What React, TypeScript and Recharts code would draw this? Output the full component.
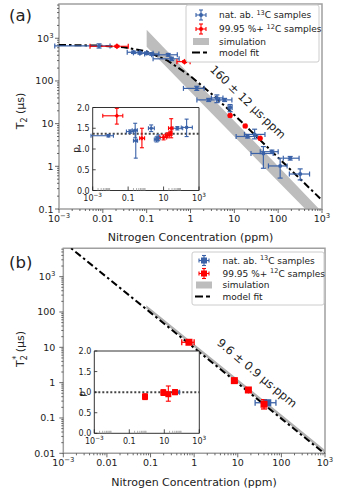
import React from "react";
import {
  ComposedChart,
  XAxis,
  YAxis,
  Scatter,
  ErrorBar,
  Line,
  Area,
  ReferenceArea,
  ReferenceLine,
  CartesianGrid,
} from "recharts";

const FONT = "'DejaVu Sans', sans-serif";
const BLUE = "#3a62a8";
const RED = "#ff0000";

// panel (a) T2 : [N, T2, N low, N high, T2 low, T2 high]
const t2Natural = [
  [0.0082, 660, 0.0008, 0.0146, 590, 740],
  [0.05, 470, 0.036, 0.07, 440, 500],
  [0.07, 455, 0.05, 0.1, 425, 490],
  [0.1, 445, 0.07, 0.14, 415, 475],
  [0.13, 430, 0.09, 0.19, 400, 460],
  [0.31, 410, 0.13, 0.5, 380, 440],
  [0.37, 330, 0.14, 0.55, 300, 360],
  [1.39, 67, 0.69, 2.05, 60, 75],
  [2.6, 36, 1.4, 4.6, 33, 39],
  [4.0, 40, 3.0, 5.5, 31, 47],
  [6.0, 36, 4.0, 8.8, 33, 39],
  [8.0, 24, 7.2, 8.9, 19, 28],
  [20, 5.0, 11, 34, 4.6, 5.5],
  [29, 5.6, 17, 50, 4.4, 7.4],
  [46, 2.0, 24, 77, 0.9, 2.9],
  [72, 2.2, 39, 100, 2.0, 2.4],
  [188, 1.55, 131, 300, 1.4, 1.7],
  [111, 1.02, 60, 160, 0.53, 1.55],
  [318, 0.66, 180, 520, 0.48, 0.87],
];
const t2Enriched = [
  [0.021, 650, 0.0051, 0.038, 620, 680],
  [0.73, 283, 0.49, 0.98, 270, 296],
  [8.0, 15.5, 7.5, 8.5, 14.5, 16.5],
  [17.7, 8.8, 16.5, 19, 8.3, 9.3],
  [38.8, 4.55, 36, 41, 4.3, 4.8],
];
const t2FitN = [0.001, 0.01, 0.03, 0.1, 0.3, 1, 3, 10, 100, 1000];
const t2FitT = [700, 670, 615, 490, 300, 130, 50, 16, 1.6, 0.16];
const t2SimN = [0.1, 1, 10, 100, 1000];
const t2SimLo = [630, 56, 5.0, 0.44, 0.04];
const t2SimHi = [1580, 135, 11.6, 1.0, 0.085];

// inset (a) p : [N, p, N low, N high, p low, p high]
const pNatural = [
  [0.0077, 1.32, 0.0008, 0.0148, 1.29, 1.35],
  [0.13, 1.42, 0.08, 0.2, 1.38, 1.46],
  [0.25, 1.45, 0.17, 0.33, 1.27, 1.62],
  [0.27, 1.2, 0.2, 0.34, 0.78, 1.45],
  [2.0, 1.5, 1.4, 3.0, 1.42, 1.58],
  [4.0, 1.23, 3.0, 5.2, 1.17, 1.29],
  [5.0, 1.27, 3.8, 6.5, 1.2, 1.34],
  [60, 1.5, 30, 120, 1.46, 1.54],
  [200, 1.52, 100, 420, 1.3, 1.72],
];
const pEnriched = [
  [0.023, 1.8, 0.0037, 0.05, 1.6, 1.98],
  [0.6, 1.26, 0.45, 0.85, 1.03, 1.5],
  [10, 1.28, 6, 15, 1.22, 1.34],
  [17, 1.33, 13, 22, 1.27, 1.39],
  [27, 1.5, 19, 34, 1.27, 1.73],
  [25, 1.38, 20, 30, 1.33, 1.43],
];
const pMeanA = 1.37;

// panel (b) T2*
const t2sNatural = [[48.8, 0.27, 25, 75, 0.25, 0.29]];
const t2sEnriched = [
  [0.76, 13.9, 0.52, 1.0, 13, 15],
  [8.35, 1.14, 8.0, 8.7, 1.07, 1.21],
  [17.5, 0.62, 16.8, 18.2, 0.58, 0.66],
  [40, 0.245, 38, 42, 0.18, 0.33],
];
const t2sFitN = [0.001, 0.01, 0.1, 1, 10, 100, 1000];
const t2sFitT = [9600, 960, 96, 9.6, 0.96, 0.096, 0.0096];
const t2sSimN = [0.08, 1, 10, 100, 1000];
const t2sSimLo = [125, 10, 1.0, 0.1, 0.01];
const t2sSimHi = [156, 12.5, 1.25, 0.125, 0.0125];

// inset (b)
const psNatural = [[48, 1.0, 30, 75, 0.97, 1.03]];
const psEnriched = [
  [0.79, 0.89, 0.7, 0.9, 0.82, 0.96],
  [8.8, 0.99, 7.5, 10.5, 0.92, 1.06],
  [17, 0.95, 15, 19, 0.78, 1.15],
  [41, 1.0, 35, 47, 0.94, 1.06],
];
const pMeanB = 1.0;

const xDecades = [0.001, 0.01, 0.1, 1, 10, 100, 1000];
const insetDecades = [0.001, 0.1, 10, 1000];
const pTicks = [0, 0.5, 1, 1.5, 2];

const rows = (pts: number[][]) =>
  pts.map(([n, v, nl, nh, vl, vh]) => ({ n, v, ex: [n - nl, nh - n], ey: [v - vl, vh - v] }));

const withMinor = (majors: number[], max: number) => {
  const out: number[] = [];
  majors.forEach((m) => {
    out.push(m);
    for (let k = 2; k < 10; k++) if (m * k < max) out.push(m * k);
  });
  return out;
};

const isMajor = (v: number) => Math.abs(Math.log10(v) - Math.round(Math.log10(v))) < 1e-6;

const DecLabel = ({ v }: { v: number }) => {
  const e = Math.round(Math.log10(v));
  if (Math.abs(e) === 3)
    return (
      <>
        10
        <tspan dy={-4} fontSize="0.72em">
          {e < 0 ? "−3" : "3"}
        </tspan>
      </>
    );
  return <>{e < 0 ? v.toFixed(-e) : String(Math.round(v))}</>;
};

const xTick = (p: any) => {
  const v = p.payload.value;
  const maj = isMajor(v);
  return (
    <g>
      <line x1={p.x} x2={p.x} y1={p.y} y2={p.y + (maj ? 4 : 2)} stroke="#444" strokeWidth={0.8} />
      {maj && (
        <text x={p.x} y={p.y + 12.5} textAnchor="middle" fontSize={9.5} fontFamily={FONT} fill="#222">
          <DecLabel v={v} />
        </text>
      )}
    </g>
  );
};

const yTick = (gap: number) => (p: any) => {
  const v = p.payload.value;
  const maj = isMajor(v);
  return (
    <g>
      <line x1={p.x} x2={p.x - (maj ? 4 : 2)} y1={p.y} y2={p.y} stroke="#444" strokeWidth={0.8} />
      {maj && (
        <text x={p.x - gap} y={p.y + 3.5} textAnchor="end" fontSize={9.5} fontFamily={FONT} fill="#222">
          <DecLabel v={v} />
        </text>
      )}
    </g>
  );
};

const insetXTick = (p: any) => {
  const v = p.payload.value;
  const maj = isMajor(v);
  return (
    <g>
      <line x1={p.x} x2={p.x} y1={p.y} y2={p.y - (maj ? 4 : 2.5)} stroke={maj ? "#222" : "#999"} strokeWidth={0.8} />
      {maj && (
        <text x={p.x} y={p.y + 10.5} textAnchor="middle" fontSize={8} fontFamily={FONT} fill="#222">
          <DecLabel v={v} />
        </text>
      )}
    </g>
  );
};

const insetYTick = (p: any) => (
  <g>
    <line x1={p.x} x2={p.x + 3} y1={p.y} y2={p.y} stroke="#222" strokeWidth={0.8} />
    <text x={p.x - 3} y={p.y + 3} textAnchor="end" fontSize={8} fontFamily={FONT} fill="#222">
      {p.payload.value.toFixed(1)}
    </text>
  </g>
);

const dot = (color: string, r: number) => (p: any) => <circle cx={p.cx} cy={p.cy} r={r} fill={color} />;
const diamond = (color: string, s: number) => (p: any) => (
  <path d={`M${p.cx},${p.cy - s}L${p.cx + s},${p.cy}L${p.cx},${p.cy + s}L${p.cx - s},${p.cy}Z`} fill={color} />
);
const square = (color: string, s: number) => (p: any) => (
  <rect x={p.cx - s} y={p.cy - s} width={2 * s} height={2 * s} fill={color} />
);

function Series({ data, color, shape, cap, sw }: any) {
  return (
    <Scatter data={rows(data)} dataKey="v" shape={shape} isAnimationActive={false}>
      <ErrorBar dataKey="ex" direction="x" stroke={color} strokeWidth={sw} width={cap} />
      <ErrorBar dataKey="ey" direction="y" stroke={color} strokeWidth={sw} width={cap} />
    </Scatter>
  );
}

// axis boxes take part of the margins: AX_H below, AX_W on the left
const AX_H = 20;
const AX_W = 30;

function MainPanel(props: any) {
  const { top, margin, yDomain, yMajors, natural, enriched, fitN, fitT, simN, simLo, simHi, simColor, big, gap } =
    props;
  const fit = fitN.map((n: number, i: number) => ({ n, t: fitT[i] }));
  const sim = simN.map((n: number, i: number) => ({ n, band: [simLo[i], simHi[i]] }));
  const m = { ...margin, left: margin.left - AX_W, bottom: margin.bottom - AX_H };
  return (
    <div style={{ position: "absolute", left: 0, top, width: 341, height: 247 }}>
      <ComposedChart width={341} height={247} margin={m}>
        <XAxis
          type="number"
          dataKey="n"
          scale="log"
          domain={[0.001, 1000]}
          allowDataOverflow
          ticks={withMinor(xDecades, 1000.1)}
          interval={0}
          tick={xTick}
          tickSize={0}
          tickMargin={0}
          axisLine={false}
          tickLine={false}
          height={AX_H}
        />
        <YAxis
          type="number"
          scale="log"
          domain={yDomain}
          allowDataOverflow
          ticks={withMinor(yMajors, yDomain[1])}
          interval={0}
          tick={yTick(gap)}
          tickSize={0}
          tickMargin={0}
          axisLine={false}
          tickLine={false}
          width={AX_W}
        />
        <Area
          data={sim}
          dataKey="band"
          type="linear"
          stroke="none"
          fill={simColor}
          fillOpacity={1}
          isAnimationActive={false}
        />
        <Line
          data={fit}
          dataKey="t"
          type="linear"
          stroke="#000"
          strokeWidth={2}
          strokeDasharray="7 3 2.5 3"
          dot={false}
          isAnimationActive={false}
        />
        {big ? (
          <>
            <Series data={natural} color={BLUE} shape={square(BLUE, 3.5)} cap={3} sw={1.3} />
            <Series data={enriched} color={RED} shape={square(RED, 3.5)} cap={3} sw={1.3} />
          </>
        ) : (
          <>
            <Series data={natural} color={BLUE} shape={dot(BLUE, 2)} cap={2.5} sw={1.2} />
            <Series data={enriched} color={RED} shape={diamond(RED, 3)} cap={2.5} sw={1.2} />
          </>
        )}
        <ReferenceArea
          x1={0.001}
          x2={1000}
          y1={yDomain[0]}
          y2={yDomain[1]}
          fill="none"
          stroke="#a0a0a0"
          strokeWidth={1.5}
          ifOverflow="visible"
        />
      </ComposedChart>
    </div>
  );
}

function Inset(props: any) {
  const { left, top, margin, natural, enriched, mean, big } = props;
  const m = { ...margin, left: margin.left - 20, bottom: margin.bottom - 12 };
  return (
    <div style={{ position: "absolute", left, top, width: 152, height: 110 }}>
      <ComposedChart width={152} height={110} margin={m}>
        <CartesianGrid fill="#fff" horizontal={false} vertical={false} />
        <XAxis
          type="number"
          dataKey="n"
          scale="log"
          domain={[0.001, 1000]}
          allowDataOverflow
          ticks={withMinor(insetDecades, 999)}
          interval={0}
          tick={insetXTick}
          tickSize={0}
          tickMargin={0}
          axisLine={false}
          tickLine={false}
          height={12}
        />
        <YAxis
          type="number"
          domain={[0, 2]}
          allowDataOverflow
          ticks={pTicks}
          interval={0}
          tick={insetYTick}
          tickSize={0}
          tickMargin={0}
          axisLine={false}
          tickLine={false}
          width={20}
        />
        <ReferenceLine y={mean} stroke="#444" strokeWidth={2} strokeDasharray="2 2" />
        {big ? (
          <>
            <Series data={natural} color={BLUE} shape={square(BLUE, 2)} cap={2.5} sw={1.1} />
            <Series data={enriched} color={RED} shape={square(RED, 3)} cap={2.5} sw={1.1} />
          </>
        ) : (
          <>
            <Series data={natural} color={BLUE} shape={dot(BLUE, 1.8)} cap={2} sw={1.1} />
            <Series data={enriched} color={RED} shape={diamond(RED, 2.3)} cap={2} sw={1.1} />
          </>
        )}
        <ReferenceArea x1={0.001} x2={1000} y1={0} y2={2} fill="none" stroke="#333" strokeWidth={1} ifOverflow="visible" />
      </ComposedChart>
    </div>
  );
}

function LegendMark({ kind, x, y, big }: any) {
  if (kind === "sim") return <rect x={x - 8} y={y - 3.5} width={16} height={7} fill="#bdbdbd" />;
  if (kind === "fit")
    return <line x1={x - 9} x2={x + 9} y1={y} y2={y} stroke="#000" strokeWidth={2} strokeDasharray="8 3 4 3" />;
  const c = kind === "blue" ? BLUE : RED;
  return (
    <g stroke={c} strokeWidth={1.1}>
      <line x1={x - 5} x2={x + 5} y1={y} y2={y} />
      <line x1={x - 5} x2={x - 5} y1={y - 2} y2={y + 2} />
      <line x1={x + 5} x2={x + 5} y1={y - 2} y2={y + 2} />
      <line x1={x} x2={x} y1={y - 5} y2={y + 5} />
      <line x1={x - 2} x2={x + 2} y1={y - 5} y2={y - 5} />
      <line x1={x - 2} x2={x + 2} y1={y + 5} y2={y + 5} />
      {big ? (
        <rect x={x - 3} y={y - 3} width={6} height={6} fill={c} stroke="none" />
      ) : (
        <circle cx={x} cy={y} r={2} fill={c} stroke="none" />
      )}
    </g>
  );
}

function LegendBox({ x, y, w, h, ys, mx, tx, big }: any) {
  const txt = { fontSize: 9, fontFamily: FONT, fill: "#222" };
  return (
    <g>
      <rect x={x} y={y} width={w} height={h} rx={2} fill="#fff" stroke="#ccc" strokeWidth={1} />
      <LegendMark kind="blue" x={mx} y={ys[0]} big={big} />
      <LegendMark kind="red" x={mx} y={ys[1]} big={big} />
      <LegendMark kind="sim" x={mx} y={ys[2]} />
      <LegendMark kind="fit" x={mx} y={ys[3]} />
      <text x={tx} y={ys[0] + 3.2} {...txt}>
        nat. ab. <tspan dy={-3.5} fontSize={6.5}>13</tspan>
        <tspan dy={3.5}>C samples</tspan>
      </text>
      <text x={tx} y={ys[1] + 3.2} {...txt}>
        99.95 %+ <tspan dy={-3.5} fontSize={6.5}>12</tspan>
        <tspan dy={3.5}>C samples</tspan>
      </text>
      <text x={tx} y={ys[2] + 3.2} {...txt}>
        simulation
      </text>
      <text x={tx} y={ys[3] + 3.2} {...txt}>
        model fit
      </text>
    </g>
  );
}

export default function App() {
  const t = { fontFamily: FONT, fill: "#222" };
  return (
    <div style={{ position: "absolute", left: 0, top: 0, width: 341, height: 494, background: "#fff" }}>
      <MainPanel
        top={0}
        margin={{ top: 4, right: 19, bottom: 38, left: 59 }}
        yDomain={[0.1, 6350]}
        yMajors={[0.1, 1, 10, 100, 1000]}
        natural={t2Natural}
        enriched={t2Enriched}
        fitN={t2FitN}
        fitT={t2FitT}
        simN={t2SimN}
        simLo={t2SimLo}
        simHi={t2SimHi}
        simColor="#bdbdbd"
        gap={5.5}
      />
      <MainPanel
        top={247}
        margin={{ top: 1.3, right: 16, bottom: 40.7, left: 63.3 }}
        yDomain={[0.01, 6350]}
        yMajors={[0.01, 0.1, 1, 10, 100, 1000]}
        natural={t2sNatural}
        enriched={t2sEnriched}
        fitN={t2sFitN}
        fitT={t2sFitT}
        simN={t2sSimN}
        simLo={t2sSimLo}
        simHi={t2sSimHi}
        simColor="#b0b0b0"
        big
        gap={8}
      />
      <Inset
        left={62}
        top={100}
        margin={{ top: 7.5, right: 15, bottom: 19.5, left: 30.7 }}
        natural={pNatural}
        enriched={pEnriched}
        mean={pMeanA}
      />
      <Inset
        left={62}
        top={343}
        margin={{ top: 8, right: 14.7, bottom: 19.7, left: 32.3 }}
        natural={psNatural}
        enriched={psEnriched}
        mean={pMeanB}
        big
      />
      <svg width={341} height={494} style={{ position: "absolute", left: 0, top: 0, pointerEvents: "none" }}>
        <text x={9} y={21} fontSize={16.5} {...t}>
          (a)
        </text>
        <text x={9} y={267.5} fontSize={16.5} {...t}>
          (b)
        </text>
        <text transform="translate(24,111) rotate(-90)" textAnchor="middle" fontSize={11} {...t}>
          T<tspan dy={2.5} fontSize={8}>2</tspan>
          <tspan dy={-2.5}> (μs)</tspan>
        </text>
        <text transform="translate(24,349) rotate(-90)" textAnchor="middle" fontSize={11} {...t}>
          T<tspan dy={2.5} fontSize={8}>2</tspan>
          <tspan dx={-4.5} dy={-8} fontSize={8}>*</tspan>
          <tspan dy={5.5}> (μs)</tspan>
        </text>
        <text x={190.5} y={241} textAnchor="middle" fontSize={11} {...t}>
          Nitrogen Concentration (ppm)
        </text>
        <text x={194} y={485.5} textAnchor="middle" fontSize={11} {...t}>
          Nitrogen Concentration (ppm)
        </text>
        <text transform="translate(79,150) rotate(-90)" textAnchor="middle" fontSize={9} {...t}>
          p
        </text>
        <text transform="translate(85,394) rotate(-90)" textAnchor="middle" fontSize={9} {...t}>
          p
        </text>
        <text transform="translate(248,102) rotate(44)" textAnchor="middle" dominantBaseline="central" fontSize={11.5} {...t}>
          160 ± 12 μs·ppm
        </text>
        <text transform="translate(257,373) rotate(40)" textAnchor="middle" dominantBaseline="central" fontSize={11.5} {...t}>
          9.6 ± 0.9 μs·ppm
        </text>
        <LegendBox x={186} y={5} w={133} h={57} ys={[15, 29, 41.5, 52.5]} mx={201} tx={219} />
        <LegendBox x={192} y={252} w={132} h={53} ys={[260.5, 273.5, 285, 296.5]} mx={204} tx={222.5} big />
      </svg>
    </div>
  );
}
